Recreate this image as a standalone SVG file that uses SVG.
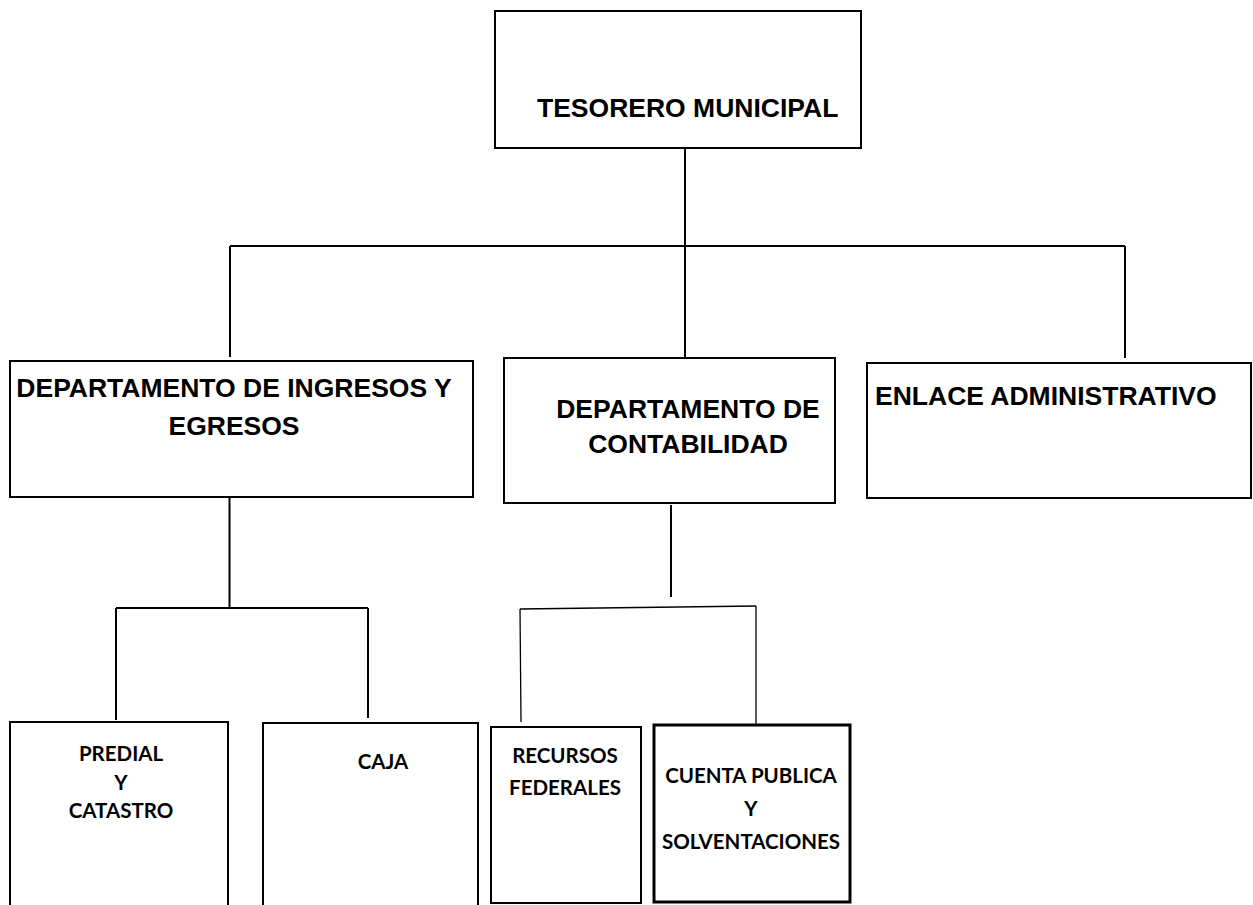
<svg xmlns="http://www.w3.org/2000/svg" width="1253" height="905" viewBox="0 0 1253 905">
<style>
.box{fill:#fff;stroke:#000;stroke-width:2}
.thick{stroke-width:3}
.line{stroke:#000;stroke-width:2;fill:none}
.thin{stroke-width:1.3}
.t1{font-family:"Liberation Sans",Arial,sans-serif;font-weight:bold;font-size:26.5px;fill:#000}
.t2{font-family:Lato,"Noto Sans",sans-serif;font-weight:bold;font-size:20.5px;fill:#000;text-anchor:middle}
</style>
<rect width="1253" height="905" fill="#fff"/>
<g id="connectors">
<line class="line" x1="685" y1="148" x2="685" y2="373"/>
<line class="line" x1="230" y1="246" x2="1125" y2="246"/>
<line class="line" x1="230" y1="246" x2="230" y2="357"/>
<line class="line" x1="1125" y1="246" x2="1125" y2="358"/>
<line class="line" x1="229.5" y1="497" x2="229.5" y2="608"/>
<line class="line" x1="116" y1="608" x2="368" y2="608"/>
<line class="line" x1="116" y1="608" x2="116" y2="720"/>
<line class="line" x1="368" y1="608" x2="368" y2="718"/>
<line class="line" x1="671" y1="505" x2="671" y2="597"/>
<line class="line thin" x1="520" y1="609" x2="756" y2="606"/>
<line class="line thin" x1="520" y1="609" x2="521" y2="722"/>
<line class="line thin" x1="756" y1="606" x2="756" y2="728"/>
<line x1="756" y1="743" x2="756" y2="748" stroke="#aaa" stroke-width="1"/>
</g>
<g id="tesorero">
<rect class="box" x="495" y="11" width="366" height="137"/>
<text class="t1" x="537" y="117">TESORERO MUNICIPAL</text>
</g>
<g id="ingresos">
<rect class="box" x="10" y="361" width="463" height="136"/>
<text class="t1" x="234" y="397" text-anchor="middle">DEPARTAMENTO DE INGRESOS Y</text>
<text class="t1" x="234" y="435" text-anchor="middle">EGRESOS</text>
</g>
<g id="contabilidad">
<rect class="box" x="504" y="358" width="331" height="145"/>
<text class="t1" x="688" y="418" text-anchor="middle">DEPARTAMENTO DE</text>
<text class="t1" x="688" y="453" text-anchor="middle">CONTABILIDAD</text>
</g>
<g id="enlace">
<rect class="box" x="867" y="363" width="384" height="135"/>
<text class="t1" x="875" y="405">ENLACE ADMINISTRATIVO</text>
</g>
<g id="predial">
<rect class="box" x="10" y="722" width="218" height="200"/>
<text class="t2" x="121" y="761">PREDIAL</text>
<text class="t2" x="121" y="790">Y</text>
<text class="t2" x="121" y="818">CATASTRO</text>
</g>
<g id="caja">
<rect class="box" x="263" y="723" width="215" height="200"/>
<text class="t2" x="383" y="769">CAJA</text>
</g>
<g id="recursos">
<rect class="box" x="491" y="727" width="150" height="176"/>
<text class="t2" x="565" y="763">RECURSOS</text>
<text class="t2" x="565" y="795">FEDERALES</text>
</g>
<g id="cuenta">
<rect class="box thick" x="654" y="725" width="196" height="177"/>
<text class="t2" x="751" y="783">CUENTA PUBLICA</text>
<text class="t2" x="751" y="816">Y</text>
<text class="t2" x="751" y="849">SOLVENTACIONES</text>
</g>
</svg>
